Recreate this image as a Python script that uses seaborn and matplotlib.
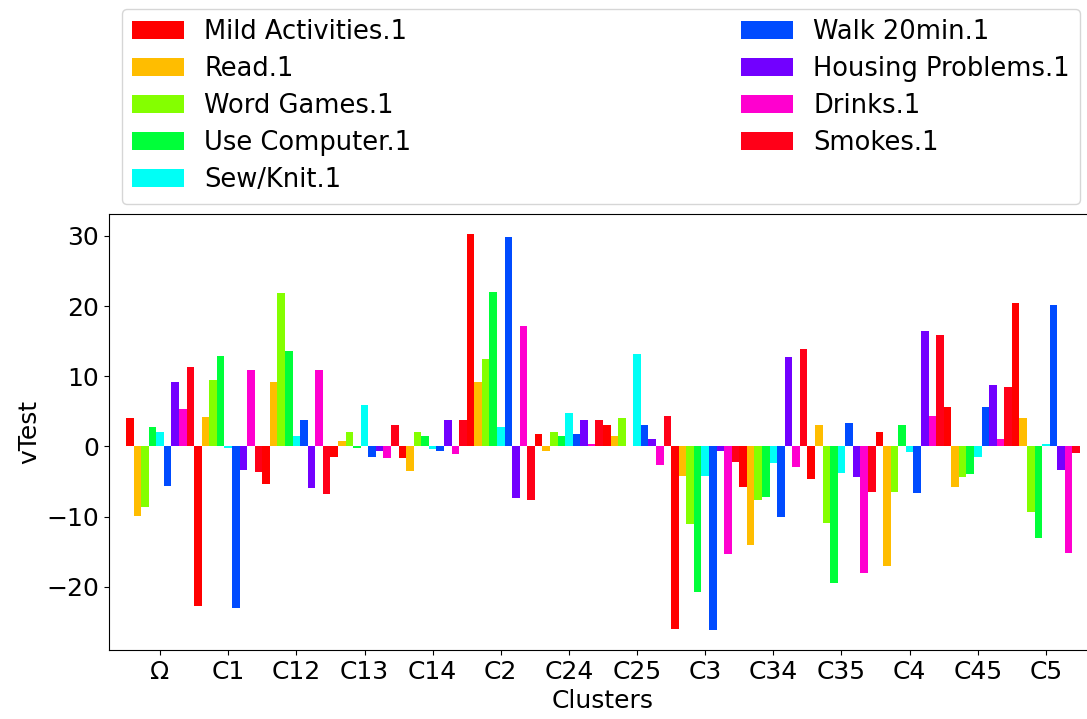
import numpy as np
import pandas as pd
import matplotlib
matplotlib.use("Agg")
import matplotlib.pyplot as plt
import seaborn as sns

clusters = ["Ω", "C1", "C12", "C13", "C14", "C2", "C24", "C25", "C3", "C34", "C35", "C4", "C45", "C5"]
series = ["Mild Activities.1", "Read.1", "Word Games.1", "Use Computer.1", "Sew/Knit.1",
          "Walk 20min.1", "Housing Problems.1", "Drinks.1", "Smokes.1"]

mild_activities = [4.0, -22.8, -5.4, -1.5, -1.7, 30.3, 1.7, 3.1, -26.0, -5.8, -4.7, 2.1, 5.6, 20.5]
read = [-9.9, 4.2, 9.2, 0.8, -3.5, 9.2, -0.6, 1.5, -4.2, -14.0, 3.1, -17.0, -5.8, 4.0]
word_games = [-8.6, 9.5, 21.9, 2.0, 2.1, 12.5, 2.1, 4.0, -11.1, -7.6, -10.9, -6.5, -4.4, -9.3]
use_computer = [2.8, 12.9, 13.6, -0.2, 1.5, 22.0, 1.5, 0.0, -20.7, -7.2, -19.5, 3.0, -4.0, -13.1]
sew_knit = [2.1, -0.2, 1.5, 5.9, -0.4, 2.8, 4.7, 13.1, -4.2, -2.4, -3.8, -0.8, -1.5, 0.3]
walk_20min = [-5.6, -23.0, 3.8, -1.5, -0.6, 29.9, 1.7, 3.1, -26.2, -10.1, 3.3, -6.7, 5.6, 20.2]
housing_problems = [9.2, -3.3, -6.0, -0.7, 3.8, -7.4, 3.8, 1.0, -0.6, 12.7, -4.4, 16.4, 8.8, -3.3]
drinks = [5.3, 10.9, 10.9, -1.7, -1.1, 17.2, 0.4, -2.6, -15.4, -2.9, -18.1, 4.4, 1.0, -15.2]
smokes = [11.3, -3.7, -6.8, 3.1, 3.8, -7.6, 3.8, 4.4, -2.2, 13.9, -6.5, 15.9, 8.4, -1.0]

values = [mild_activities, read, word_games, use_computer, sew_knit,
          walk_20min, housing_problems, drinks, smokes]

rows = []
for s, vals in zip(series, values):
    for c, v in zip(clusters, vals):
        rows.append({"Clusters": c, "series": s, "vTest": v})
df = pd.DataFrame(rows)

plt.rcParams["font.size"] = 18
fig = plt.figure(figsize=(10.87, 7.19), dpi=100)
ax = fig.add_axes([109 / 1087, 1 - 650 / 719, 988 / 1087, (650 - 214) / 719])

cmap = plt.get_cmap("hsv")
palette = [cmap(x) for x in np.linspace(0, 1, len(series))]

sns.barplot(data=df, x="Clusters", y="vTest", hue="series", order=clusters,
            hue_order=series, palette=palette, width=1.0, dodge=True,
            saturation=1, errorbar=None, ax=ax, linewidth=0)

ax.set_xlim(-0.75, 13.75)
ax.set_xlabel("Clusters", fontsize=18)
ax.set_ylabel("vTest", fontsize=18)
ax.tick_params(labelsize=18)

handles, labels = ax.get_legend_handles_labels()
ax.legend_.remove()
fig.legend(handles, labels, loc="upper left", ncol=2, mode="expand",
           bbox_to_anchor=(122 / 1087, 1 - 201 / 719, (1080 - 122) / 1087, (201 - 9) / 719),
           borderaxespad=0, fontsize=18.5, labelspacing=0.43)

fig.savefig("out.png", dpi=100)
